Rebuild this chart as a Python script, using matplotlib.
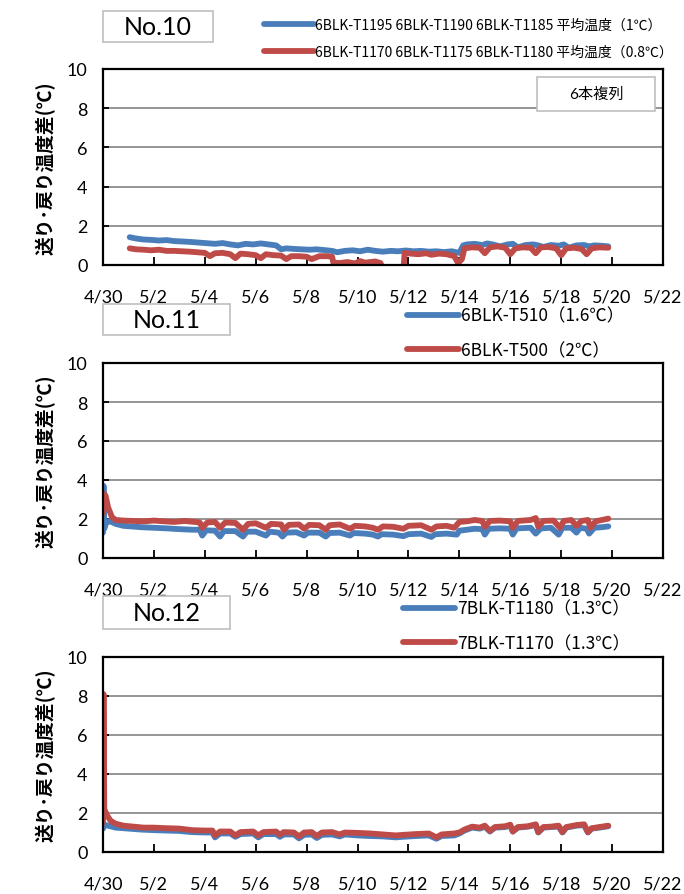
import numpy as np
from matplotlib import pyplot as plt
from matplotlib.patches import Rectangle

plt.rcParams['font.family'] = ['Lato', 'Noto Sans CJK JP', 'DejaVu Sans']

nan = np.nan

# x = days since 4/30, y = supply/return temperature difference
no10_blue = [(1.05, 1.42), (1.3, 1.35), (1.6, 1.30), (1.9, 1.28), (2.2, 1.25), (2.5, 1.27), (2.8, 1.22),
             (3.1, 1.20), (3.4, 1.18), (3.7, 1.15), (4.0, 1.12), (4.2, 1.10), (4.4, 1.08), (4.7, 1.12),
             (5.0, 1.05), (5.3, 1.00), (5.6, 1.08), (5.9, 1.05), (6.2, 1.10), (6.5, 1.05), (6.8, 1.00),
             (7.0, 0.80), (7.2, 0.85), (7.5, 0.82), (7.8, 0.80), (8.1, 0.78), (8.4, 0.80), (8.7, 0.76),
             (9.0, 0.72), (9.2, 0.65), (9.5, 0.72), (9.8, 0.75), (10.1, 0.70), (10.4, 0.78), (10.7, 0.72),
             (11.0, 0.68), (11.3, 0.72), (11.6, 0.70), (11.9, 0.74), (12.2, 0.70), (12.5, 0.72), (12.8, 0.68),
             (13.1, 0.70), (13.4, 0.66), (13.7, 0.70), (14.0, 0.62), (14.15, 1.00), (14.3, 1.05), (14.6, 1.08),
             (14.9, 1.02), (15.1, 1.10), (15.3, 1.05), (15.6, 0.95), (15.9, 1.05), (16.1, 1.08), (16.3, 0.90),
             (16.6, 1.02), (16.9, 1.05), (17.1, 1.00), (17.3, 0.92), (17.6, 1.02), (17.9, 0.98), (18.1, 1.05),
             (18.3, 0.88), (18.6, 1.00), (18.9, 1.02), (19.1, 0.95), (19.3, 1.00), (19.6, 0.98), (19.85, 0.95)]

no10_red = [(1.05, 0.85), (1.3, 0.80), (1.6, 0.78), (1.9, 0.75), (2.2, 0.78), (2.5, 0.72), (2.8, 0.72),
            (3.1, 0.70), (3.4, 0.68), (3.7, 0.65), (4.0, 0.62), (4.2, 0.45), (4.4, 0.60), (4.7, 0.62),
            (5.0, 0.55), (5.2, 0.35), (5.4, 0.58), (5.7, 0.55), (6.0, 0.50), (6.2, 0.35), (6.4, 0.55),
            (6.7, 0.50), (7.0, 0.48), (7.2, 0.30), (7.4, 0.45), (7.7, 0.45), (8.0, 0.42), (8.2, 0.30),
            (8.5, 0.45), (8.8, 0.45), (9.0, 0.42), (9.05, 0.12), (9.3, 0.10), (9.6, 0.15), (9.9, 0.08),
            (10.1, 0.20), (10.3, 0.12), (10.5, 0.15), (10.7, 0.18), (10.9, 0.10), (11.0, -0.2), (11.05, nan),
            (11.8, -0.3), (11.85, 0.62), (12.1, 0.58), (12.4, 0.55), (12.7, 0.60), (12.9, 0.52), (13.2, 0.58),
            (13.5, 0.55), (13.8, 0.45), (13.95, 0.10), (14.1, 0.30), (14.2, 0.85), (14.5, 0.90), (14.8, 0.88),
            (15.0, 0.60), (15.2, 0.90), (15.5, 0.95), (15.8, 0.88), (16.0, 0.55), (16.2, 0.85), (16.5, 0.90),
            (16.8, 0.88), (17.0, 0.60), (17.2, 0.90), (17.5, 0.92), (17.8, 0.85), (18.0, 0.50), (18.2, 0.85),
            (18.5, 0.88), (18.8, 0.82), (19.0, 0.55), (19.2, 0.85), (19.5, 0.90), (19.85, 0.88)]

no11_blue = [(0.0, 1.3), (0.02, 3.7), (0.05, 1.5), (0.1, 1.75), (0.25, 1.9), (0.5, 1.75), (0.8, 1.65),
             (1.1, 1.62), (1.5, 1.58), (2.0, 1.55), (2.5, 1.52), (3.0, 1.48), (3.5, 1.45), (3.8, 1.45),
             (3.9, 1.15), (4.05, 1.42), (4.4, 1.40), (4.6, 1.10), (4.75, 1.38), (5.2, 1.38), (5.5, 1.10),
             (5.65, 1.35), (6.0, 1.35), (6.4, 1.15), (6.55, 1.35), (6.9, 1.30), (7.05, 1.10), (7.2, 1.30),
             (7.6, 1.32), (7.9, 1.15), (8.05, 1.30), (8.5, 1.30), (8.75, 1.10), (8.9, 1.28), (9.3, 1.30),
             (9.7, 1.15), (9.85, 1.28), (10.3, 1.25), (10.6, 1.20), (10.8, 1.10), (10.95, 1.22), (11.4, 1.20),
             (11.8, 1.12), (12.0, 1.22), (12.5, 1.25), (12.9, 1.08), (13.05, 1.22), (13.5, 1.25), (13.9, 1.20),
             (14.0, 1.40), (14.3, 1.45), (14.6, 1.50), (14.9, 1.48), (15.0, 1.20), (15.15, 1.50), (15.6, 1.52),
             (16.0, 1.50), (16.1, 1.20), (16.25, 1.52), (16.8, 1.55), (17.0, 1.25), (17.2, 1.52), (17.6, 1.55),
             (17.9, 1.20), (18.05, 1.55), (18.4, 1.55), (18.6, 1.30), (18.75, 1.55), (19.0, 1.50), (19.1, 1.25),
             (19.3, 1.55), (19.6, 1.58), (19.85, 1.62)]

no11_red = [(0.0, 2.3), (0.02, 3.3), (0.1, 3.2), (0.2, 2.6), (0.35, 2.1), (0.5, 1.95), (0.8, 1.92),
            (1.2, 1.90), (1.6, 1.88), (2.0, 1.92), (2.4, 1.88), (2.8, 1.85), (3.2, 1.90), (3.6, 1.85),
            (3.8, 1.82), (3.9, 1.55), (4.1, 1.82), (4.4, 1.85), (4.6, 1.55), (4.8, 1.82), (5.2, 1.80),
            (5.5, 1.45), (5.7, 1.75), (6.0, 1.78), (6.4, 1.55), (6.6, 1.75), (7.0, 1.72), (7.1, 1.45),
            (7.3, 1.70), (7.7, 1.72), (7.9, 1.50), (8.1, 1.70), (8.5, 1.68), (8.75, 1.45), (8.9, 1.68),
            (9.3, 1.72), (9.7, 1.50), (9.9, 1.65), (10.3, 1.62), (10.6, 1.55), (10.8, 1.45), (11.0, 1.62),
            (11.4, 1.60), (11.8, 1.50), (12.0, 1.65), (12.5, 1.68), (12.9, 1.45), (13.1, 1.62), (13.5, 1.65),
            (13.8, 1.55), (14.0, 1.85), (14.3, 1.88), (14.6, 1.95), (14.9, 1.90), (15.0, 1.60), (15.2, 1.90),
            (15.6, 1.92), (16.0, 1.88), (16.1, 1.55), (16.3, 1.90), (16.8, 1.95), (17.0, 2.05), (17.1, 1.60),
            (17.3, 1.90), (17.7, 1.92), (17.95, 1.55), (18.1, 1.90), (18.4, 1.95), (18.6, 1.65), (18.8, 1.90),
            (19.05, 1.95), (19.15, 1.55), (19.35, 1.88), (19.6, 1.95), (19.85, 2.02)]

no12_blue = [(0.0, 1.2), (0.05, 1.4), (0.2, 1.35), (0.5, 1.25), (1.0, 1.2), (1.5, 1.15), (2.0, 1.12),
             (2.5, 1.1), (3.0, 1.08), (3.5, 1.02), (4.0, 1.0), (4.3, 1.0), (4.4, 0.75), (4.6, 0.95),
             (5.0, 0.95), (5.2, 0.78), (5.4, 0.92), (5.9, 0.95), (6.1, 0.75), (6.3, 0.92), (6.8, 0.92),
             (6.95, 0.78), (7.1, 0.90), (7.5, 0.90), (7.7, 0.70), (7.9, 0.88), (8.2, 0.90), (8.4, 0.72),
             (8.6, 0.88), (9.0, 0.90), (9.3, 0.80), (9.5, 0.90), (10.0, 0.85), (10.5, 0.82), (11.0, 0.80),
             (11.5, 0.75), (11.8, 0.78), (12.3, 0.82), (12.8, 0.85), (13.1, 0.68), (13.3, 0.82), (13.8, 0.85),
             (14.0, 0.95), (14.2, 1.10), (14.5, 1.25), (14.8, 1.20), (15.0, 1.30), (15.2, 1.05), (15.4, 1.25),
             (15.8, 1.28), (16.0, 1.35), (16.1, 1.05), (16.3, 1.25), (16.7, 1.30), (17.0, 1.38), (17.1, 1.00),
             (17.3, 1.25), (17.6, 1.28), (17.9, 1.30), (18.05, 1.00), (18.2, 1.25), (18.6, 1.35), (18.9, 1.38),
             (19.05, 1.00), (19.2, 1.20), (19.5, 1.25), (19.85, 1.32)]

no12_red = [(0.0, 1.5), (0.02, 8.1), (0.05, 2.2), (0.15, 1.9), (0.3, 1.6), (0.5, 1.45), (0.8, 1.35),
            (1.2, 1.30), (1.6, 1.25), (2.0, 1.25), (2.5, 1.22), (3.0, 1.20), (3.5, 1.12), (4.0, 1.10),
            (4.3, 1.10), (4.4, 0.85), (4.6, 1.05), (5.0, 1.05), (5.2, 0.85), (5.4, 1.02), (5.9, 1.05),
            (6.1, 0.85), (6.3, 1.02), (6.8, 1.05), (6.95, 0.88), (7.1, 1.02), (7.5, 1.00), (7.7, 0.80),
            (7.9, 1.00), (8.2, 1.02), (8.4, 0.82), (8.6, 1.00), (9.0, 1.02), (9.3, 0.90), (9.5, 1.00),
            (10.0, 0.98), (10.5, 0.95), (11.0, 0.90), (11.5, 0.85), (11.8, 0.88), (12.3, 0.92), (12.8, 0.95),
            (13.1, 0.75), (13.3, 0.90), (13.8, 0.95), (14.0, 1.0), (14.2, 1.15), (14.5, 1.30), (14.8, 1.25),
            (15.0, 1.35), (15.2, 1.08), (15.4, 1.28), (15.8, 1.32), (16.0, 1.40), (16.1, 1.05), (16.3, 1.28),
            (16.7, 1.32), (17.0, 1.42), (17.1, 1.02), (17.3, 1.28), (17.6, 1.30), (17.9, 1.35), (18.05, 1.02),
            (18.2, 1.28), (18.6, 1.38), (18.9, 1.42), (19.05, 1.02), (19.2, 1.22), (19.5, 1.28), (19.85, 1.35)]

xtick_pos = [0, 2, 4, 6, 8, 10, 12, 14, 16, 18, 20, 22]
xtick_labels = ['4/30', '5/2', '5/4', '5/6', '5/8', '5/10', '5/12', '5/14', '5/16', '5/18', '5/20', '5/22']
yticks = [0, 2, 4, 6, 8, 10]

titles = ['No.10', 'No.11', 'No.12']
labels_blue = ['6BLK-T1195 6BLK-T1190 6BLK-T1185 平均温度（1℃）', '6BLK-T510（1.6℃）', '7BLK-T1180（1.3℃）']
labels_red = ['6BLK-T1170 6BLK-T1175 6BLK-T1180 平均温度（0.8℃）', '6BLK-T500（2℃）', '7BLK-T1170（1.3℃）']
ylabel = '送り･戻り温度差(℃)'

BLUE = '#4a7ebb'
RED = '#be4b48'
W, H = 684, 895

fig = plt.figure(figsize=(W / 100, H / 100), dpi=100)


def fx(px):
    return px / W


def fy(py):
    return 1 - py / H


def box(x0, y0, x1, y1, text, size):
    fig.add_artist(Rectangle((fx(x0), fy(y1)), fx(x1) - fx(x0), fy(y0) - fy(y1),
                             transform=fig.transFigure, facecolor='white', edgecolor='#bfbfbf', lw=1.2))
    fig.text((fx(x0) + fx(x1)) / 2, (fy(y0) + fy(y1)) / 2, text, ha='center', va='center',
             fontsize=size, family=['Lato', 'Noto Sans CJK JP'])


panel_top = [70, 364, 658]
panel_bot = [266, 559, 853]
title_box = [(103, 12, 213, 43), (103, 305, 230, 336), (103, 597, 230, 630)]
legend_anchor = [(258, 39, 10.0, 3.6), (400, 334, 12.5, 3.0), (396, 627, 12.5, 3.0)]
series = [(no10_blue, no10_red), (no11_blue, no11_red), (no12_blue, no12_red)]

for i in range(3):
    ax = fig.add_axes([fx(103), fy(panel_bot[i]), fx(663) - fx(103), fy(panel_top[i]) - fy(panel_bot[i])])
    b = np.array(series[i][0])
    r = np.array(series[i][1])
    lb, = ax.plot(b[:, 0], b[:, 1], color=BLUE, lw=4.2, solid_capstyle='round', solid_joinstyle='round')
    lr, = ax.plot(r[:, 0], r[:, 1], color=RED, lw=4.2, solid_capstyle='round', solid_joinstyle='round')
    ax.set_xlim(0, 22)
    ax.set_ylim(0, 10)
    ax.set_xticks(xtick_pos)
    ax.set_xticklabels(xtick_labels)
    ax.set_yticks(yticks)
    ax.yaxis.grid(True, color='#8c8c8c', lw=1.3)
    ax.set_axisbelow(True)
    ax.tick_params(direction='in', length=6, width=1.3, labelsize=13, pad=17)
    ax.tick_params(axis='y', length=4, pad=11)
    for s in ax.spines.values():
        s.set_linewidth(1.6)
        s.set_color('black')
    ax.set_ylabel(ylabel, fontsize=13.5, fontweight='bold', family=['Noto Sans CJK JP', 'DejaVu Sans'],
                  labelpad=8)

    bx = title_box[i]
    box(bx[0], bx[1], bx[2], bx[3], titles[i], 18)

    lx, ly, lsize, hlen = legend_anchor[i]
    ax.legend([lb, lr], [labels_blue[i], labels_red[i]], loc='center left',
              bbox_to_anchor=(fx(lx), fy(ly)), bbox_transform=fig.transFigure, frameon=False,
              handlelength=hlen, handletextpad=0.1, labelspacing=0.95, borderaxespad=0,
              prop={'family': ['Noto Sans CJK JP', 'DejaVu Sans'], 'size': lsize})

box(537, 78, 655, 112, '6本複列', 11)

fig.savefig('out.png', dpi=100)
